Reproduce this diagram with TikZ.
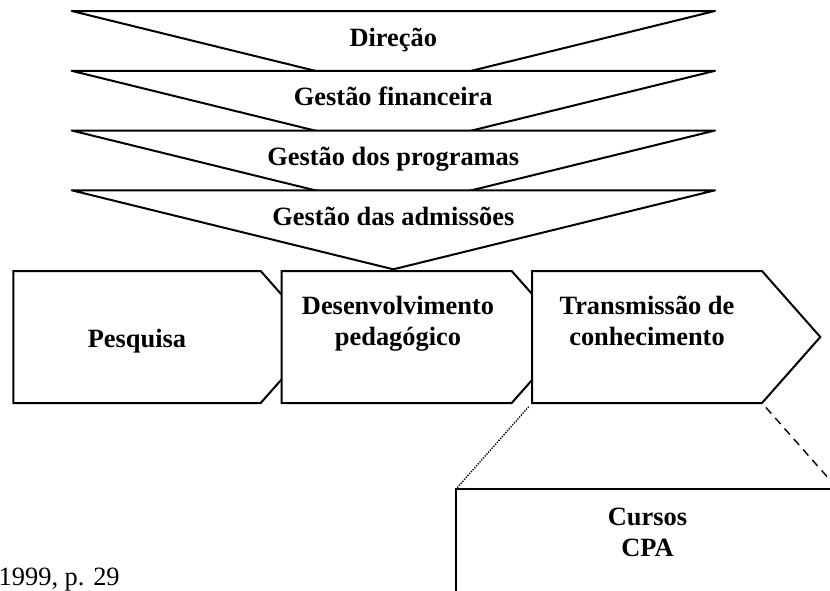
\documentclass[tikz,border=0pt]{standalone}
\usepackage{fontspec}
\setmainfont{Liberation Serif}
\usetikzlibrary{positioning}

\tikzset{
  band/.style={draw, fill=white, line width=2pt, line join=round},
  stage/.style={draw, fill=white, line width=2pt},
  lbl/.style={font=\fontsize{26.4}{31}\selectfont\bfseries, align=center, inner sep=0pt, anchor=base},
}

\begin{document}
\begin{tikzpicture}[x=1pt,y=-1pt]
          \useasboundingbox (0,0) rectangle (830,590);
          \clip (0,0) rectangle (830,590);

          \begin{scope}
            \foreach \t/\name/\txt in {11/dir/Direção, 70.8/fin/Gestão financeira,
                130.5/prog/Gestão dos programas, 190.3/adm/Gestão das admissões} {
              \draw[band] (71.7,\t) -- (715,\t) -- (393.3,\t+79) -- cycle;
              \node[lbl] (\name) at (393.3,\t+35) {\txt};
            }
          \end{scope}

          \begin{scope}
            \draw[stage] (13.3,271) -- (260.7,271) -- (319,337) -- (260.7,403) -- (13.3,403) -- cycle;
            \draw[stage] (281.7,271) -- (511.7,271) -- (570,337) -- (511.7,403) -- (281.7,403) -- cycle;
            \draw[stage] (532,271) -- (762,271) -- (820.3,337) -- (762,403) coordinate (trans se)
              -- (532,403) coordinate (trans sw) -- cycle;
            \draw[stage] (456,600) -- (456,489) coordinate (cpa nw) -- (838,489) coordinate (cpa ne) -- (838,600);
          \end{scope}

          \node[lbl] (pes) at (137,347.3) {Pesquisa};
          \node[lbl] (des) at (398,345.7) {Desenvolvimento\\pedagógico};
          \node[lbl] (trans) at (647,345.7) {Transmissão de\\conhecimento};
          \node[lbl] (cursos) at (647.5,556) {Cursos\\CPA};
          \node[font=\fontsize{26.4}{31}\selectfont, anchor=base west, inner sep=0pt] (src) at (-1.5,585.7) {1999, p. 29};

          \path[draw, line width=1.4pt, dash pattern=on 1.3pt off 1.3pt, shorten <=5pt] (trans sw) -- (cpa nw);
          \path[draw, line width=1.4pt, dash pattern=on 8pt off 6pt, shorten <=6pt] (trans se) -- (cpa ne);
        \end{tikzpicture}
\end{document}
